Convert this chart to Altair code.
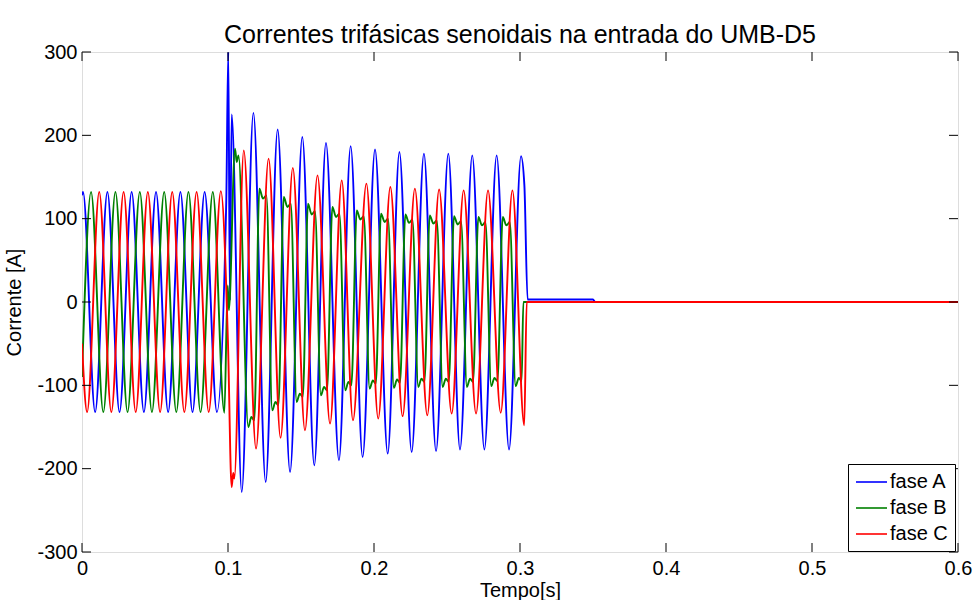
import altair as alt
import pandas as pd

# Turning points of each phase current: time (ms) and current (A)
t_fase_a = [0, 0.7, 9.0, 17.4, 25.7, 34.0, 42.4, 50.7, 59.0, 67.4, 75.7, 84.0, 92.4,
            98.8, 100.2, 101.3, 102.5,
            109.4, 117.4, 125.8, 134.0, 142.5, 150.9, 159.1, 167.1, 176.0, 184.0,
            192.2, 200.7, 209.4, 217.4, 225.8, 234.2, 242.5, 250.9, 258.9, 267.3,
            275.6, 284.0, 292.5, 300.7,
            303.0, 305.2, 350.0, 351.5, 600]
i_fase_a = [128, 132, -132, 132, -132, 132, -132, 132, -132, 132, -132, 132, -132,
            120, 300, 2, 225,
            -228, 227, -216, 207, -204, 198, -196, 191, -190, 187,
            -186, 183, -182, 180, -180, 178, -179, 178, -177, 176,
            -177, 176, -177, 175,
            140, 3, 3, 0, 0]

t_fase_b = [0, 6.2, 14.6, 22.9, 31.2, 39.6, 47.9, 56.3, 64.6, 72.9, 81.2, 89.6, 97.5, 99.8, 100.6,
            104.8, 106.0, 107.2, 113.9, 116.0, 118.0,
            121.5, 124.0, 126.3, 130.3, 132.5, 134.5,
            138.2, 140.7, 143.0, 147.0, 149.2, 151.2,
            154.8, 157.3, 159.6, 163.6, 165.8, 167.8,
            171.5, 174.0, 176.3, 180.3, 182.5, 184.5,
            188.2, 190.7, 193.0, 197.0, 199.2, 201.2,
            204.8, 207.3, 209.6, 213.6, 215.8, 217.8,
            221.5, 224.0, 226.3, 230.3, 232.5, 234.5,
            238.2, 240.7, 243.0, 247.0, 249.2, 251.2,
            254.8, 257.3, 259.6, 263.6, 265.8, 267.8,
            271.5, 274.0, 276.3, 280.3, 282.5, 284.5,
            288.2, 290.7, 293.0, 297.0, 299.2, 301.1, 302.3, 600]
i_fase_b = [-90, 132, -132, 132, -132, 132, -132, 132, -132, 132, -132, 132, -133, 20, -10,
            184, 168, 176, -150, -138, -142,
            136, 124, 128, -130, -120, -124,
            126, 114, 118, -120, -110, -114,
            118, 105, 109, -112, -102, -106,
            114, 102, 106, -106, -96, -100,
            110, 99, 103, -104, -94, -98,
            106, 96, 100, -103, -93, -97,
            105, 95, 99, -102, -92, -96,
            104, 94, 98, -102, -92, -96,
            103, 93, 97, -102, -92, -96,
            102, 92, 96, -101, -91, -95,
            102, 92, 96, -101, -91, -95, 0, 0]

t_fase_c = [0, 3.5, 11.8, 20.1, 28.5, 36.8, 45.1, 53.5, 61.8, 70.1, 78.5, 86.8, 95.1,
            100.0, 102.5, 103.6, 104.3,
            110.8, 119.2, 127.8, 136.0, 144.4, 152.7, 161.3, 169.9, 177.9, 185.6,
            194.8, 202.9, 211.2, 219.6, 228.0, 236.5, 244.6, 253.2, 261.4, 269.9,
            278.1, 286.8, 294.8, 302.9,
            304.6, 600]
i_fase_c = [-50, -132, 132, -132, 132, -132, 132, -132, 132, -132, 132, -132, 133,
            -50, -222, -205, -212,
            182, -176, 172, -163, 161, -154, 152, -146, 146, -142,
            142, -140, 138, -137, 136, -136, 135, -134, 134, -134,
            134, -133, 134, -148,
            0, 0]

fases = ["fase A", "fase B", "fase C"]
cores = ["#0000ff", "#008000", "#ff0000"]
x_ticks = [0, 0.1, 0.2, 0.3, 0.4, 0.5, 0.6]
y_ticks = [-300, -200, -100, 0, 100, 200, 300]

W, H = 876, 500
TICK = 9
FONT = "Liberation Sans"


def serie(t_ms, corrente, nome):
    return pd.DataFrame({"t": [v / 1000 for v in t_ms], "i": corrente, "fase": nome})


x_scale = alt.Scale(domain=[0, 0.6], nice=False, zero=False)
y_scale = alt.Scale(domain=[-300, 300], nice=False, zero=False)

x_axis = alt.Axis(values=x_ticks, labelExpr="'' + datum.value", domain=False, ticks=False,
                  grid=False, labelFontSize=20, labelFont=FONT, labelColor="black",
                  labelPadding=6, labelFlush=False, labelOverlap=False,
                  title="Tempo[s]", titleFontSize=20, titleFont=FONT,
                  titleFontWeight="normal", titleColor="black", titlePadding=2)
y_axis = alt.Axis(values=y_ticks, labelExpr="'' + datum.value", domain=False, ticks=False,
                  grid=False, labelFontSize=20, labelFont=FONT, labelColor="black",
                  labelPadding=5, labelFlush=False, labelOverlap=False,
                  title="Corrente [A]", titleFontSize=20, titleFont=FONT,
                  titleFontWeight="normal", titleColor="black", titlePadding=12)

# legend entry: a short horizontal stroke, drawn to the right of the symbol centre
color = alt.Color(
    "fase:N",
    scale=alt.Scale(domain=fases, range=cores),
    legend=alt.Legend(title=None, orient="none", legendX=766, legendY=412,
                      strokeColor="black", fillColor="white", padding=7, cornerRadius=0,
                      symbolType="M-1,0H2.1", symbolSize=400, symbolStrokeWidth=1.6,
                      labelFontSize=20, labelFont=FONT, labelColor="black",
                      rowPadding=5, labelOffset=13),
)


def linha(df):
    return alt.Chart(df).mark_line(strokeWidth=1.9, interpolate="monotone", clip=True).encode(
        x=alt.X("t:Q", scale=x_scale, axis=x_axis),
        y=alt.Y("i:Q", scale=y_scale, axis=y_axis),
        color=color,
    )


linhas = [linha(serie(t, i, n)) for t, i, n in
          [(t_fase_a, i_fase_a, fases[0]), (t_fase_b, i_fase_b, fases[1]), (t_fase_c, i_fase_c, fases[2])]]

# inward tick marks on all four sides of the box
xt = pd.DataFrame({"t": x_ticks})
yt = pd.DataFrame({"i": y_ticks})
rule = dict(color="black", strokeWidth=1)
tick_bottom = alt.Chart(xt).mark_rule(**rule).encode(
    x=alt.X("t:Q", scale=x_scale, axis=x_axis), y=alt.value(H), y2=alt.value(H - TICK))
tick_top = alt.Chart(xt).mark_rule(**rule).encode(
    x=alt.X("t:Q", scale=x_scale, axis=x_axis), y=alt.value(0), y2=alt.value(TICK))
tick_left = alt.Chart(yt).mark_rule(**rule).encode(
    y=alt.Y("i:Q", scale=y_scale, axis=y_axis), x=alt.value(0), x2=alt.value(TICK))
tick_right = alt.Chart(yt).mark_rule(**rule).encode(
    y=alt.Y("i:Q", scale=y_scale, axis=y_axis), x=alt.value(W - TICK), x2=alt.value(W))

chart = alt.layer(*linhas, tick_bottom, tick_top, tick_left, tick_right).properties(
    width=W,
    height=H,
    padding={"left": 82, "top": 52, "right": 19, "bottom": 48},
    autosize=alt.AutoSizeParams(type="none"),
    title=alt.Title("Correntes trifásicas senoidais na entrada do UMB-D5", fontSize=25,
                    font=FONT, fontWeight="normal", color="black", offset=-6, anchor="middle"),
).configure_view(stroke="black", strokeWidth=1).configure(background="white")

chart.save("out.html", embed_options={"renderer": "svg", "actions": False})
